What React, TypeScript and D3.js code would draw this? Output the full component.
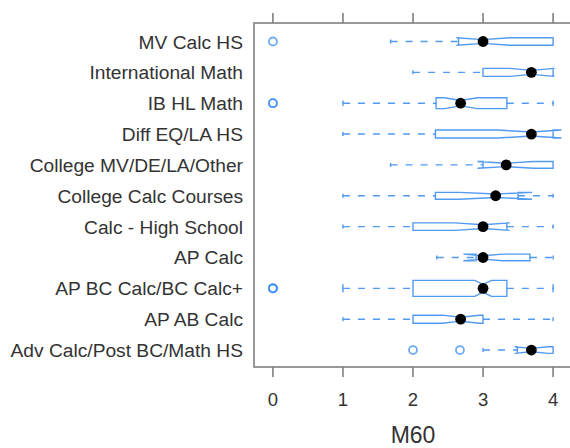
import React from 'react';
import * as d3 from 'd3';

// rows listed bottom -> top, as lattice draws them
const categories = [
  'Adv Calc/Post BC/Math HS',
  'AP AB Calc',
  'AP BC Calc/BC Calc+',
  'AP Calc',
  'Calc - High School',
  'College Calc Courses',
  'College MV/DE/LA/Other',
  'Diff EQ/LA HS',
  'IB HL Math',
  'International Math',
  'MV Calc HS',
];

const whiskerLo = [3.0, 1.0, 1.0, 2.34, 1.0, 1.0, 1.68, 1.0, 1.0, 2.0, 1.68];
const q1 = [3.49, 2.0, 2.0, 2.9, 2.0, 2.32, 3.0, 2.32, 2.33, 3.0, 2.65];
const median = [3.69, 2.68, 3.0, 3.0, 3.0, 3.18, 3.33, 3.69, 2.68, 3.69, 3.0];
const q3 = [4.0, 3.0, 3.34, 3.67, 3.34, 3.5, 4.0, 4.0, 3.34, 4.0, 4.0];
const whiskerHi = [4.0, 4.0, 4.0, 4.0, 4.0, 4.0, 4.0, 4.0, 4.0, 4.0, 4.0];
const notchLo = [3.45, 2.42, 2.88, 2.72, 2.6, 2.66, 2.92, 3.2, 2.45, 3.38, 2.62];
const notchHi = [3.93, 2.95, 3.12, 3.28, 3.38, 3.7, 3.72, 4.12, 2.92, 4.02, 3.38];
const counts = [21, 30, 120, 21, 27, 22, 21, 30, 55, 30, 26];
const outliers: number[][] = [[2.0, 2.67], [], [0, 0, 0], [], [], [], [], [], [0, 0], [], [0]];

const xTicks = [0, 1, 2, 3, 4];
const xLabel = 'M60';

const BLUE = '#3f8ff0';
const FONT = '"Liberation Sans", Arial, sans-serif';

const panel = { left: 254, right: 572, top: 23, bottom: 367 };

const x = d3.scaleLinear().domain([-0.27, 4.27]).range([panel.left, panel.right]);
const y = d3
  .scaleLinear()
  .domain([0.45, categories.length + 0.6])
  .range([panel.bottom, panel.top]);
const boxH = d3.scaleSqrt().domain([0, d3.max(counts) as number]).range([0, 16]);

function notchPath(i: number) {
  const cy = y(i + 1);
  const h = boxH(counts[i]) / 2;
  const pts: [number, number][] = [
    [x(q1[i]), cy - h],
    [x(notchLo[i]), cy - h],
    [x(median[i]), cy - h / 2],
    [x(notchHi[i]), cy - h],
    [x(q3[i]), cy - h],
    [x(q3[i]), cy + h],
    [x(notchHi[i]), cy + h],
    [x(median[i]), cy + h / 2],
    [x(notchLo[i]), cy + h],
    [x(q1[i]), cy + h],
  ];
  return d3.line()(pts) + 'Z';
}

export default function App() {
  return (
    <svg
      width={570}
      height={448}
      style={{ position: 'absolute', left: 0, top: 0, display: 'block' }}
      viewBox="0 0 570 448"
    >
      {/* frame and ticks */}
      <rect
        x={panel.left}
        y={panel.top}
        width={panel.right - panel.left}
        height={panel.bottom - panel.top}
        fill="none"
        stroke="#808080"
        strokeWidth={1.6}
      />
      {xTicks.map((t) => (
        <g key={t}>
          <line x1={x(t)} x2={x(t)} y1={panel.top} y2={panel.top - 10} stroke="#808080" strokeWidth={1.6} />
          <line x1={x(t)} x2={x(t)} y1={panel.bottom} y2={panel.bottom + 10} stroke="#808080" strokeWidth={1.6} />
          <text x={x(t)} y={405.5} textAnchor="middle" fontFamily={FONT} fontSize={18.5} fill="#333">
            {t}
          </text>
        </g>
      ))}
      <text x={(panel.left + panel.right) / 2} y={443} textAnchor="middle" fontFamily={FONT} fontSize={23} fill="#333">
        {xLabel}
      </text>

      {categories.map((c, i) => {
        const cy = y(i + 1);
        const h = boxH(counts[i]);
        const cap = Math.max(4, h * 0.5);
        return (
          <g key={c}>
            <text x={243} y={cy + 7} textAnchor="end" fontFamily={FONT} fontSize={19.2} fill="#333">
              {c}
            </text>
            {/* whiskers */}
            <g stroke={BLUE} strokeOpacity={0.9} strokeWidth={1.4}>
              {whiskerLo[i] < q1[i] && (
                <>
                  <line x1={x(whiskerLo[i])} x2={x(q1[i])} y1={cy} y2={cy} strokeDasharray="7,8" />
                  <line x1={x(whiskerLo[i])} x2={x(whiskerLo[i])} y1={cy - cap / 2} y2={cy + cap / 2} />
                </>
              )}
              {whiskerHi[i] > q3[i] && (
                <>
                  <line x1={x(q3[i])} x2={x(whiskerHi[i])} y1={cy} y2={cy} strokeDasharray="7,8" />
                  <line x1={x(whiskerHi[i])} x2={x(whiskerHi[i])} y1={cy - cap / 2} y2={cy + cap / 2} />
                </>
              )}
            </g>
            <path d={notchPath(i)} fill="none" stroke={BLUE} strokeOpacity={0.9} strokeWidth={1.4} />
            {outliers[i].map((o, j) => (
              <circle key={j} cx={x(o)} cy={cy} r={4} fill="none" stroke={BLUE} strokeOpacity={0.75} strokeWidth={1.8} />
            ))}
            <circle cx={x(median[i])} cy={cy} r={5.4} fill="#000" />
          </g>
        );
      })}
    </svg>
  );
}
